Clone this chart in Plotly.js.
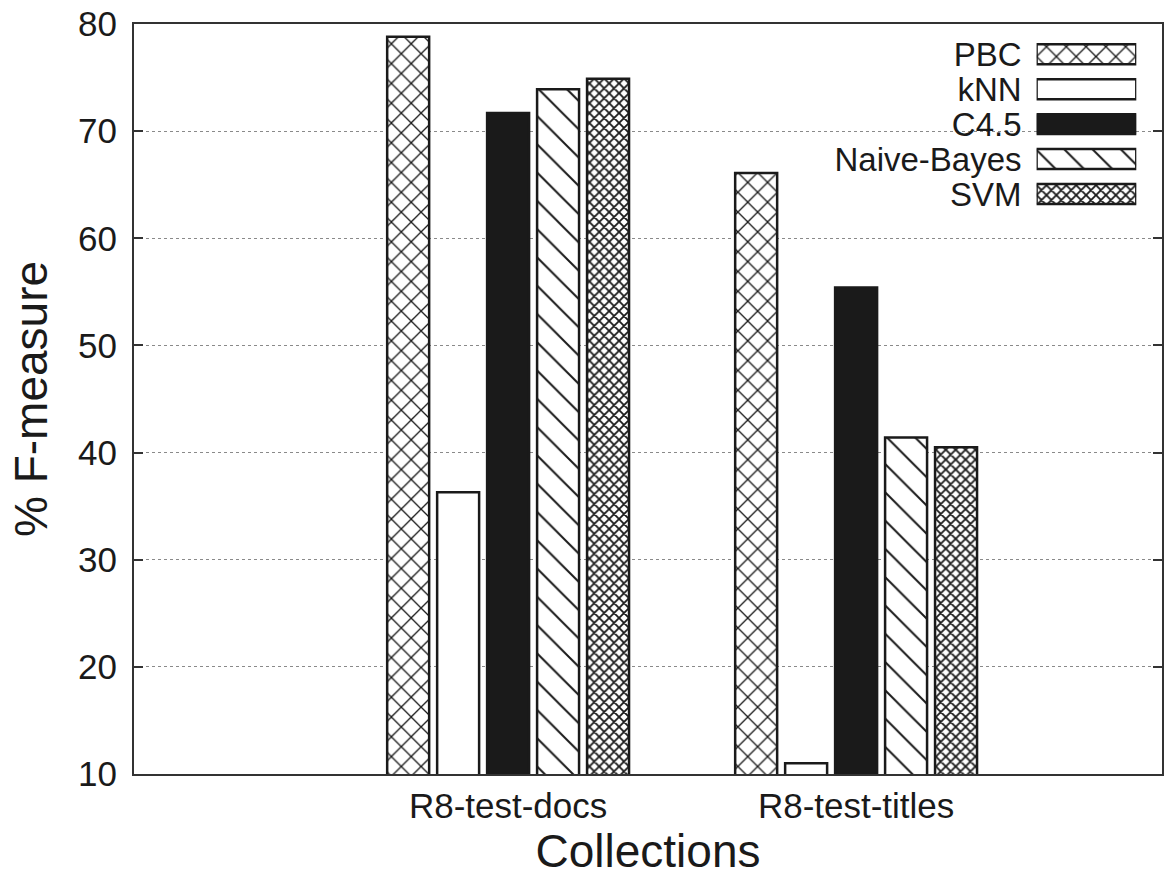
<!DOCTYPE html>
<html>
<head>
<meta charset="utf-8">
<script src="https://cdn.plot.ly/plotly-3.0.1.min.js"></script>
<style>html,body{margin:0;padding:0;background:#fff;}#chart{width:1164px;height:881px;}</style>
</head>
<body>
<div id="chart"></div>
<script>
// ---- data ----
const categories = ['R8-test-docs', 'R8-test-titles'];
const seriesNames = ['PBC', 'kNN', 'C4.5', 'Naive-Bayes', 'SVM'];
const pbcValues = [78.8, 66.1];
const knnValues = [36.3, 11.0];
const c45Values = [71.7, 55.4];
const nbValues = [73.9, 41.4];
const svmValues = [74.9, 40.5];
const yTickValues = [10, 20, 30, 40, 50, 60, 70, 80];

// ---- styles ----
const edge = {color: '#1a1a1a', width: 2.5};
const styles = [
  {color: '#ffffff', pattern: {shape: 'x', size: 14, solidity: 0.18, fgcolor: '#1a1a1a', bgcolor: '#ffffff', fillmode: 'replace'}},
  {color: '#ffffff'},
  {color: '#1a1a1a'},
  {color: '#ffffff', pattern: {shape: '\\', size: 20, solidity: 0.1, fgcolor: '#1a1a1a', bgcolor: '#ffffff', fillmode: 'replace'}},
  {color: '#ffffff', pattern: {shape: 'x', size: 7, solidity: 0.45, fgcolor: '#1a1a1a', bgcolor: '#ffffff', fillmode: 'replace'}}
];
const allValues = [pbcValues, knnValues, c45Values, nbValues, svmValues];
const xIdx = categories.map((c, i) => i);

const traces = [];
seriesNames.forEach((name, k) => {
  traces.push({
    type: 'bar', name: name, x: xIdx, y: allValues[k],
    marker: Object.assign({line: edge}, styles[k]),
    showlegend: false, hoverinfo: 'y', xaxis: 'x', yaxis: 'y'
  });
});
// key swatches drawn on an inset axis (labels = series names)
seriesNames.forEach((name, k) => {
  traces.push({
    type: 'bar', orientation: 'h', name: name, y: [name], x: [1], base: 0,
    width: 0.57, offset: -0.285,
    marker: Object.assign({line: edge}, styles[k]),
    showlegend: false, hoverinfo: 'skip', xaxis: 'x2', yaxis: 'y2'
  });
});

const font = 'Liberation Sans, Arial, Helvetica, sans-serif';
const layout = {
  width: 1164, height: 881,
  margin: {l: 134, r: 2, t: 24, b: 107},
  paper_bgcolor: '#ffffff', plot_bgcolor: 'rgba(0,0,0,0)',
  font: {family: font, color: '#1a1a1a', size: 35},
  barmode: 'group', bargap: 0.282, bargroupgap: 0.16,
  showlegend: false,
  xaxis: {
    range: [-1.075, 1.879], tickmode: 'array', tickvals: xIdx, ticktext: categories,
    showgrid: false, zeroline: false, showline: true, linecolor: '#333', linewidth: 2,
    mirror: true, ticks: '', ticklabelstandoff: 0,
    tickfont: {size: 35, family: font},
    title: {text: 'Collections', font: {size: 46, family: font}, standoff: 8}
  },
  yaxis: {
    range: [10, 80], tickmode: 'array', tickvals: yTickValues, ticktext: yTickValues.map(String),
    showgrid: true, gridcolor: '#8a8a8a', gridwidth: 1, griddash: 'dot',
    zeroline: false, showline: true, linecolor: '#333', linewidth: 2, mirror: 'ticks',
    ticks: 'inside', ticklen: 9, tickwidth: 2, tickcolor: '#333', ticklabelstandoff: 8,
    tickfont: {size: 35, family: font},
    title: {text: '% F-measure', font: {size: 46, family: font}, standoff: 16}
  },
  xaxis2: {
    domain: [0.878, 0.975], range: [0, 1], anchor: 'y2',
    showgrid: false, zeroline: false, showline: false, showticklabels: false, ticks: '', fixedrange: true
  },
  yaxis2: {
    domain: [0.75, 0.983], anchor: 'x2', type: 'category', categoryorder: 'array',
    categoryarray: seriesNames, autorange: 'reversed',
    tickmode: 'array', tickvals: seriesNames, ticktext: seriesNames,
    showgrid: false, zeroline: false, showline: false, ticks: '', ticklabelstandoff: 14,
    tickfont: {size: 33, family: font}, fixedrange: true
  },
  shapes: [{
    type: 'rect', xref: 'paper', yref: 'paper', layer: 'between',
    x0: 0.655, x1: 0.985, y0: 0.745, y1: 0.99,
    fillcolor: '#ffffff', line: {width: 0}
  }]
};

Plotly.newPlot('chart', traces, layout, {displayModeBar: false, staticPlot: true});
</script>
</body>
</html>
